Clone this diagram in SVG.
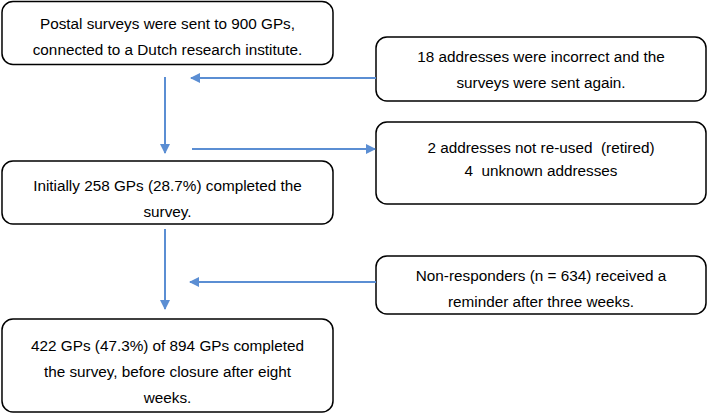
<svg xmlns="http://www.w3.org/2000/svg" width="712" height="414" viewBox="0 0 712 414">
<style>
.box{fill:#fff;stroke:#000;stroke-width:1.5}
.t{font-family:"Liberation Sans",Arial,sans-serif;font-size:15.3px;fill:#000;text-anchor:middle;white-space:pre}
.c{stroke:#5B8ED3;stroke-width:2;fill:none;marker-end:url(#ah)}
</style>
<defs>
<marker id="ah" viewBox="0 0 10 10" refX="9" refY="5" markerWidth="5.5" markerHeight="5" orient="auto" markerUnits="strokeWidth">
<path d="M0,0 L10,5 L0,10 z" fill="#5B8ED3"/>
</marker>
</defs>
<g id="n1"><rect class="box" x="2" y="1.5" width="331" height="63" rx="11"/>
<text class="t" x="167.5" y="29">Postal surveys were sent to 900 GPs,</text>
<text class="t" x="167.5" y="55">connected to a Dutch research institute.</text></g>
<g id="n2"><rect class="box" x="376" y="37" width="330" height="64" rx="11"/>
<text class="t" x="541" y="62">18 addresses were incorrect and the</text>
<text class="t" x="541" y="88">surveys were sent again.</text></g>
<g id="n3"><rect class="box" x="376" y="122" width="330" height="82" rx="11"/>
<text class="t" x="541" y="153" xml:space="preserve">2 addresses not re-used  (retired)</text>
<text class="t" x="541" y="176" xml:space="preserve">4  unknown addresses</text></g>
<g id="n4"><rect class="box" x="2" y="161" width="331" height="63" rx="11"/>
<text class="t" x="167.5" y="191">Initially 258 GPs (28.7%) completed the</text>
<text class="t" x="167.5" y="217">survey.</text></g>
<g id="n5"><rect class="box" x="376" y="256" width="330" height="58" rx="11"/>
<text class="t" x="541" y="281">Non-responders (n = 634) received a</text>
<text class="t" x="541" y="307">reminder after three weeks.</text></g>
<g id="n6"><rect class="box" x="2" y="319" width="331" height="93" rx="11"/>
<text class="t" x="167.5" y="351">422 GPs (47.3%) of 894 GPs completed</text>
<text class="t" x="167.5" y="377">the survey, before closure after eight</text>
<text class="t" x="167.5" y="403">weeks.</text></g>
<g id="connectors">
<path class="c" d="M165,77 V153"/>
<path class="c" d="M376,78 H191"/>
<path class="c" d="M192,149 H375"/>
<path class="c" d="M165,229 V309"/>
<path class="c" d="M376,282 H190"/>
</g>
</svg>
